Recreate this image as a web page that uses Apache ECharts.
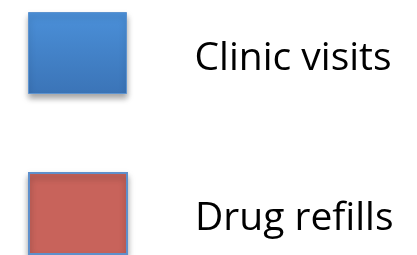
<!DOCTYPE html>
<html><head><meta charset="utf-8">
<script src="https://cdn.jsdelivr.net/npm/echarts@6/dist/echarts.min.js"></script>
<style>html,body{margin:0;padding:0;background:#fff}#c{width:417px;height:255px}</style>
</head><body><div id="c"></div>
<script>
const categories = ['Clinic visits', 'Drug refills'];
const seriesValues = [[], []];
const chart = echarts.init(document.getElementById('c'), null, {renderer: 'canvas'});
const blue = new echarts.graphic.LinearGradient(0, 0, 0, 1, [
  {offset: 0, color: '#4b90d9'}, {offset: 1, color: '#3b74b7'}]);
const red = '#c8635b';
const common = {
  orient: 'vertical', left: 28, padding: 0,
  icon: 'rect', itemWidth: 98, itemHeight: 81,
  formatter: '{t|{name}}',
  textStyle: {
    fontFamily: 'Open Sans', fontSize: 39, color: '#000',
    rich: {t: {fontFamily: 'Open Sans', fontSize: 39, color: '#000', padding: [11, 0, 0, 63]}}
  }
};
chart.setOption({
  animation: false,
  xAxis: {show: false, type: 'category', data: []},
  yAxis: {show: false, type: 'value'},
  grid: {show: false},
  legend: [
    Object.assign({}, common, {top: 12, data: [
      {name: categories[0], itemStyle: {color: blue, borderColor: '#5d93cf', borderWidth: 1, shadowBlur: 6, shadowOffsetY: 4, shadowColor: 'rgba(0,0,0,0.35)'}}]}),
    Object.assign({}, common, {top: 172, data: [
      {name: categories[1], itemStyle: {color: red, borderColor: '#5e8fcb', borderWidth: 2, shadowBlur: 6, shadowOffsetY: 4, shadowColor: 'rgba(0,0,0,0.35)'}}]})
  ],
  series: [
    {name: categories[0], type: 'bar', data: seriesValues[0], itemStyle: {color: blue}},
    {name: categories[1], type: 'bar', data: seriesValues[1], itemStyle: {color: red}}
  ]
});
</script></body></html>
